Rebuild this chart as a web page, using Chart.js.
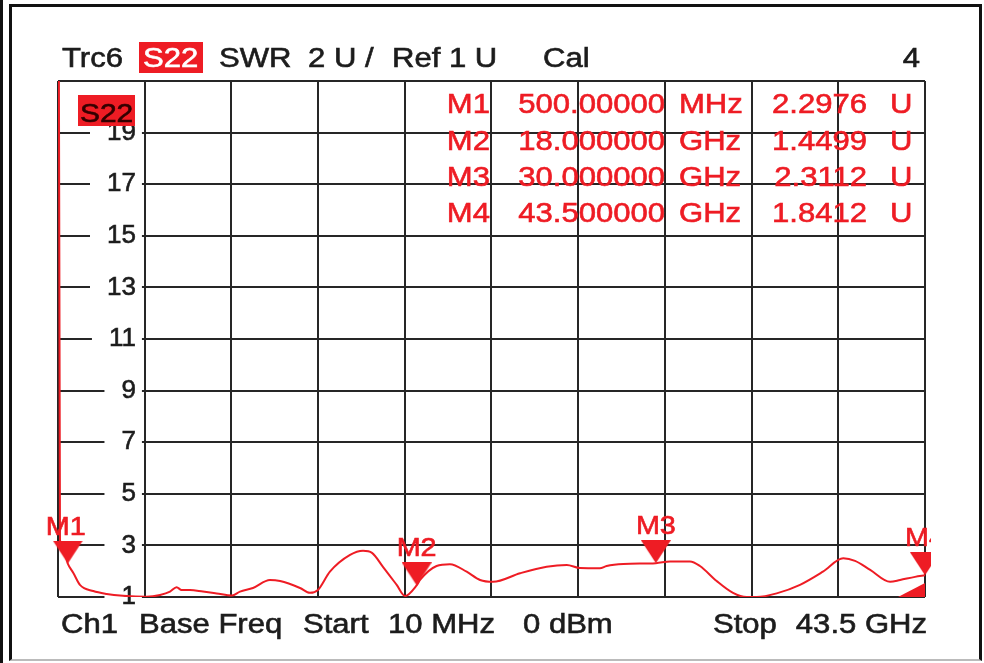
<!DOCTYPE html>
<html lang="en">
<head>
<meta charset="UTF-8">
<title>Trc6 S22 SWR</title>
<script src="https://cdn.jsdelivr.net/npm/chart.js@4"></script>
<style>
  html, body { margin: 0; padding: 0; background: #fff; }
  #wrap { position: relative; width: 984px; height: 663px; overflow: hidden; }
  #edge { position: absolute; left: 0; top: 0; width: 3px; height: 663px; background: #111; }
  #frame { position: absolute; left: 9px; top: 4px; width: 967px; height: 652px; border: 3px solid #111; border-bottom: 2px solid #bbb; }
  #c { position: absolute; left: 0; top: 0; }
</style>
</head>
<body>
<div id="wrap">
  <div id="edge"></div>
  <div id="frame"></div>
  <canvas id="c" width="984" height="663"></canvas>
</div>
<script>
// trace, frequency in GHz, SWR in U
const freqGHz = [0.01, 0.11, 0.31, 0.5, 0.78, 1.11, 1.78, 2.45, 3.27, 4.46,
  5.13, 5.63, 5.96, 6.21, 6.63, 7.28, 7.97, 8.74, 9.14, 9.79,
  10.64, 11.15, 12.15, 12.65, 13.05, 13.65, 14.66, 15.31, 15.76, 16.31,
  17.0, 17.42, 18.0, 18.17, 19.0, 19.67, 20.51, 21.18, 21.83, 23.19,
  24.52, 25.53, 26.19, 27.19, 27.53, 28.37, 30.0, 30.71, 31.71, 32.21,
  33.05, 33.87, 34.55, 35.06, 36.06, 37.23, 38.38, 39.4, 39.99, 40.75,
  41.75, 42.25, 43.0, 43.5];
const swr = [40, 3.21, 2.74, 2.2976, 1.93, 1.47, 1.23, 1.12, 1.05, 1.01,
  1.08, 1.21, 1.38, 1.27, 1.27, 1.21, 1.14, 1.06, 1.21, 1.35,
  1.66, 1.62, 1.35, 1.16, 1.27, 1.98, 2.63, 2.79, 2.71, 2.17,
  1.47, 1.04, 1.4499, 1.66, 2.2, 2.27, 1.98, 1.66, 1.59, 1.92,
  2.17, 2.24, 2.12, 2.11, 2.2, 2.28, 2.3112, 2.38, 2.38, 2.2,
  1.62, 1.16, 1.0, 1.0, 1.14, 1.47, 1.98, 2.5, 2.4, 2.05,
  1.59, 1.66, 1.78, 1.8412];

// markers
const markerNames = ['M1', 'M2', 'M3', 'M4'];
const markerFreqGHz = [0.5, 18, 30, 43.5];
const markerSwr = [2.2976, 1.4499, 2.3112, 1.8412];
const markerFreqText = ['500.00000', '18.000000', '30.000000', '43.500000'];
const markerUnit = ['MHz', 'GHz', 'GHz', 'GHz'];

// reference position arrow at the bottom right
const refFreqGHz = [43.5];
const refSwr = [1];

// axes
const xStart = 0.01, xStop = 43.5;
const yMin = 1, yMax = 21, yStep = 2;

const RED = '#ee1c24';
const INK = '#1c1c1c';
const GRID = '#262626';
const FONT = '"Liberation Sans", Arial, sans-serif';
const SX = 1.15; // the screenshot is a bit wide

function markerTriangle(w, h) {
  const c = document.createElement('canvas');
  c.width = w; c.height = h * 2;
  const g = c.getContext('2d');
  g.fillStyle = RED;
  g.beginPath(); g.moveTo(0, 0); g.lineTo(w, 0); g.lineTo(w / 2, h); g.closePath(); g.fill();
  return c;
}
function refTriangle(w, h) {
  const c = document.createElement('canvas');
  c.width = w * 2; c.height = h * 2;
  const g = c.getContext('2d');
  g.fillStyle = RED;
  g.beginPath(); g.moveTo(0, h); g.lineTo(w, h); g.lineTo(w, 0); g.closePath(); g.fill();
  return c;
}

function txt(ctx, s, x, y, align, color, size) {
  ctx.save();
  ctx.translate(x, y);
  ctx.scale(SX, 1);
  ctx.font = (size || 27) + 'px ' + FONT;
  ctx.textAlign = align;
  ctx.textBaseline = 'alphabetic';
  ctx.fillStyle = color;
  ctx.strokeStyle = color;
  ctx.lineWidth = 0.6;
  ctx.fillText(s, 0, 0);
  ctx.strokeText(s, 0, 0);
  ctx.restore();
}

const screenText = {
  id: 'screenText',
  afterDatasetsDraw(chart) {
    const ctx = chart.ctx;
    const meta = chart.getDatasetMeta(1);
    ctx.save();
    ctx.beginPath(); ctx.rect(0, 0, chart.chartArea.right + 6, chart.height); ctx.clip();
    meta.data.forEach((p, i) => {
      txt(ctx, markerNames[i], p.x - (i === 0 ? 2 : 0), p.y - 29, 'center', RED, 25);
    });
    ctx.restore();
  },
  afterDraw(chart) {
    const ctx = chart.ctx;
    // header line
    txt(ctx, 'Trc6', 62, 67, 'left', INK);
    ctx.fillStyle = RED; ctx.fillRect(139, 42, 64, 31);
    txt(ctx, 'S22', 143, 67, 'left', '#fff');
    txt(ctx, 'SWR', 219, 67, 'left', INK);
    txt(ctx, '2 U /', 308, 67, 'left', INK);
    txt(ctx, 'Ref 1 U', 392, 67, 'left', INK);
    txt(ctx, 'Cal', 543, 67, 'left', INK);
    txt(ctx, '4', 920, 67, 'right', INK);

    // trace tag in the plot
    ctx.fillStyle = RED; ctx.fillRect(78, 95, 57, 31);
    txt(ctx, 'S22', 80, 122, 'left', '#300', 26);

    // marker table
    const rows = [113, 149.5, 186, 222];
    markerNames.forEach((m, i) => {
      const y = rows[i];
      txt(ctx, m, 490, y, 'right', RED);
      txt(ctx, markerFreqText[i], 665, y, 'right', RED);
      txt(ctx, markerUnit[i], 679, y, 'left', RED);
      txt(ctx, markerSwr[i].toFixed(4), 867, y, 'right', RED);
      txt(ctx, 'U', 890, y, 'left', RED);
    });

    // footer line
    txt(ctx, 'Ch1', 61, 633, 'left', INK);
    txt(ctx, 'Base Freq', 139, 633, 'left', INK);
    txt(ctx, 'Start', 303, 633, 'left', INK);
    txt(ctx, '10 MHz', 388, 633, 'left', INK);
    txt(ctx, '0 dBm', 523, 633, 'left', INK);
    txt(ctx, 'Stop', 713, 633, 'left', INK);
    txt(ctx, '43.5 GHz', 927, 633, 'right', INK);
  }
};

new Chart(document.getElementById('c'), {
  type: 'line',
  data: {
    datasets: [
      {
        label: 'S22',
        data: freqGHz.map((f, i) => ({ x: f, y: swr[i] })),
        borderColor: RED,
        borderWidth: 2,
        pointRadius: 0,
        cubicInterpolationMode: 'monotone'
      },
      {
        label: 'Markers',
        data: markerFreqGHz.map((f, i) => ({ x: f, y: markerSwr[i] })),
        showLine: false,
        pointStyle: markerTriangle(30, 23),
        pointRadius: 5,
        clip: { left: 10, top: 10, right: 6, bottom: 10 }
      },
      {
        label: 'Ref',
        data: refFreqGHz.map((f, i) => ({ x: f, y: refSwr[i] })),
        showLine: false,
        pointStyle: refTriangle(27, 14),
        pointRadius: 5,
        clip: false
      }
    ]
  },
  options: {
    responsive: false,
    animation: false,
    events: [],
    layout: { padding: { left: 58, top: 81, right: 59, bottom: 66 } },
    plugins: { legend: { display: false }, tooltip: { enabled: false } },
    scales: {
      x: {
        type: 'linear',
        min: xStart,
        max: xStop,
        afterFit: s => { s.height = 0; },
        ticks: { display: false, count: 11 },
        grid: { color: GRID, lineWidth: 2, drawTicks: false },
        border: { display: false }
      },
      y: {
        min: yMin,
        max: yMax,
        afterFit: s => { s.width = 0; },
        ticks: {
          stepSize: yStep,
          mirror: true,
          crossAlign: 'far',
          padding: 49,
          color: INK,
          font: { family: FONT, size: 26 },
          textStrokeColor: INK,
          textStrokeWidth: 0.6,
          showLabelBackdrop: true,
          backdropColor: c => c.tick && c.tick.value === yMax ? 'rgba(0,0,0,0)' : '#fff',
          backdropPadding: { left: 17, right: 6, top: 0, bottom: 0 },
          callback: v => v === yMax ? '' : v
        },
        grid: { color: GRID, lineWidth: 2, drawTicks: false },
        border: { display: false }
      }
    }
  },
  plugins: [screenText]
});
</script>
</body>
</html>
